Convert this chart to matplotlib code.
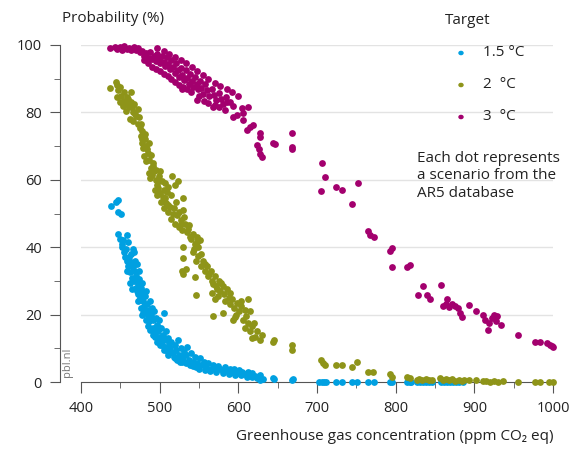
import matplotlib.pyplot as plt
from matplotlib.ticker import MultipleLocator

# 1.5 C target: (concentration ppm CO2 eq, probability %)
blue_x = [438, 445, 447, 447, 451, 447, 450, 452, 459, 460,
          452, 455, 457, 461, 463, 466, 468, 458, 460, 464,
          466, 469, 471, 474, 462, 465, 468, 470, 472, 474,
          476, 478, 471, 473, 475, 477, 479, 481, 483, 477.5,
          480, 482, 484, 486, 488, 490, 485, 487, 489, 491,
          493, 495, 497, 499, 506, 492, 494, 496, 498, 500,
          502, 504, 506, 508, 510, 512, 503, 505, 507, 510,
          513, 515, 517, 519, 521, 523, 525, 527, 529, 531,
          520, 528, 533, 535, 537, 540, 542, 545, 548, 551,
          546, 553, 556, 559, 562, 565, 568, 571, 574, 577,
          580, 583, 586, 589, 592, 595, 598, 601, 605, 609,
          612, 615, 618, 621, 624, 627, 631, 628, 644, 645, 668, 669,
          454, 456, 459, 462, 465, 467, 470, 473, 476, 479,
          482, 485, 488, 491, 494, 497, 500, 503, 508, 511,
          514, 518, 522, 526, 530, 534, 538, 543, 550, 557,
          564, 572, 580, 588, 596, 604, 611, 618,
          703, 706, 709, 712, 724, 732, 744, 751, 765, 772, 793, 795,
          815, 818, 820, 827, 831, 835, 839, 843, 846, 857, 861, 865,
          869, 873, 877, 881, 886]
blue_y = [52.3, 53.5, 54, 50.3, 50, 44, 42.5, 41, 43.5, 41.5,
          40, 38.5, 39.5, 37, 38, 39.5, 38.5, 36, 34.5, 35.5,
          34, 36, 35, 33, 32.5, 31, 30, 31.5, 29, 30.5,
          28, 29.5, 27, 26, 25, 26.5, 24, 25.5, 27, 20,
          22.5, 21, 23, 21.5, 24, 22, 19.5, 18, 20, 18.5,
          21, 19, 17, 18.5, 20.4, 16, 14.5, 16.5, 15, 13.5,
          16, 14, 12.5, 15, 13, 11.5, 11, 9.5, 10.5, 9,
          10, 12, 8.5, 11, 9.5, 12.5, 8, 10, 7.5, 9,
          7, 6, 8, 10.5, 6.5, 8.5, 6, 7.5, 5.5, 7,
          4.5, 5, 6, 4.5, 5.5, 4, 5, 3.8, 4.8, 4,
          3.5, 4.5, 3.5, 4, 3, 3.8, 2.8, 3.5, 3, 2.5,
          3, 2, 2.6, 1.8, 1.2, 2, 1, 0.6, 1.2, 0.8, 0.6, 1,
          42, 37, 33, 29.5, 27.5, 33, 28, 24, 22, 20.5,
          18.5, 16.5, 15.5, 14, 13.5, 12, 11, 12.5, 10, 8,
          9, 7.5, 6.5, 6, 6.5, 5.5, 5, 4.8, 4, 3.5,
          3.2, 3, 2.6, 2.4, 2.2, 2, 1.6, 1.4,
          0, 0, 0, 0, 0, 0, 0, 0, 0, 0, 0, 0,
          0, 0, 0, 0, 0, 0, 0, 0, 0, 0, 0, 0,
          0, 0, 0, 0, 0]

# 2 C target
green_x = [437, 444, 446, 447, 450, 446, 449, 451, 453, 455,
           457, 459, 461, 463, 464, 466, 468, 470, 472, 474,
           462, 466, 473,
           475, 476, 478, 477, 479, 481, 483, 480, 482, 485,
           487, 489, 491, 486, 488, 490, 493, 495, 497, 499,
           494, 496, 498, 501, 503, 505, 507, 509, 511, 516,
           519, 523, 502, 505, 508, 511, 513, 515, 517, 520,
           522, 525, 527, 529, 530, 530, 532, 535, 537, 540,
           542, 545, 547, 549, 551, 530, 530, 528, 530, 534,
           545, 546, 543, 546, 549, 552, 555, 557, 560, 562,
           565, 567, 570, 572, 575, 577, 580, 582, 585, 588,
           566, 570, 574, 589, 592, 595, 598, 601, 604, 608,
           612, 615, 568, 580, 593, 596, 606, 609, 612, 615,
           618, 621, 624, 627, 630, 617, 644, 645, 668, 668,
           455, 458, 460, 465, 469, 476, 478, 481, 484, 486,
           489, 492, 495, 498, 500, 504, 507, 510, 514, 518,
           521, 524, 527, 531, 536, 539, 544, 548, 553, 558,
           563, 568, 573, 578, 583, 590, 597, 603, 610, 620,
           705, 707, 710, 724, 732, 744, 751, 765, 771, 793,
           795, 815, 818, 827, 830, 834, 838, 842, 846, 856,
           860, 864, 868, 872, 876, 880, 884, 887, 893, 902,
           911, 915, 920, 925, 930, 936, 956, 977, 984, 995, 1000]
green_y = [87.1, 89, 88, 86.5, 87.5, 84.5, 83, 85, 82, 83.5,
           80.5, 84.5, 81.5, 86, 83, 80, 82.5, 79, 81, 78.5,
           78, 77.5, 76.5,
           75.4, 73, 74.5, 71, 69.5, 72, 70, 67, 65.5, 68,
           66, 63.5, 65, 62, 60.5, 61.5, 62.5, 60, 58.5, 61,
           57, 55.5, 57.5, 56, 59.5, 57, 54.5, 56.5, 58, 61,
           58.5, 59.5, 53.5, 51.5, 53, 50.5, 52, 48.5, 50, 47,
           49.5, 46, 48, 45, 54.6, 51, 47, 44.5, 46.5, 42.5,
           44, 41, 43, 40, 42, 40, 36.8, 33, 32, 33.5,
           31.2, 25.8, 38.5, 36, 37.5, 34.5, 36, 33, 34.5, 31.5,
           33, 30, 31.5, 28.5, 30, 27, 28.5, 26, 27.5, 25,
           26.5, 24.5, 25.5, 23, 24.5, 22, 23.5, 21, 22.5, 21.5,
           24.5, 21, 19.6, 20.5, 18.4, 19.3, 18.5, 16, 17.5, 15,
           16.5, 13.5, 15, 12.5, 14, 13, 12, 12.5, 9.5, 11,
           86, 82.5, 84, 81.5, 79.5, 76.5, 72, 73.5, 69, 71,
           67.5, 64, 63, 59.5, 62.5, 55, 59, 52.5, 55.5, 51.5,
           53.5, 50.5, 47, 49, 45.5, 43, 39.5, 41.5, 38, 35,
           32, 29, 27.5, 29.5, 24, 26.5, 20, 24, 19.5, 17.5,
           6.5, 5.5, 5, 5, 5, 4.5, 6, 3, 3, 2.4,
           1.6, 1.6, 1.3, 0.6, 1, 0.5, 0.8, 0.5, 0.7, 1.2,
           0.6, 1, 0.5, 0.8, 0.4, 0.7, 0.3, 0.6, 0.5, 0.5,
           0.2, 0.3, 0, 0.4, 0, 0.2, 0, 0, 0, 0, 0]

# 3 C target
magenta_x = [437, 443, 446, 449, 452, 455, 458, 461, 464, 467,
             470, 473, 475, 478, 480, 483, 486, 488, 490, 493,
             495, 497, 499, 501, 503, 505, 507, 509, 511, 513,
             515, 517, 519, 521, 523, 525, 527, 529, 531, 533,
             535, 537, 539, 541, 543, 545, 547, 549, 551, 553,
             555, 557, 560, 563, 566, 569, 572, 575, 578, 581,
             584, 586, 530, 528, 547, 568, 592, 600, 589, 593,
             605, 612, 593, 598, 606, 606, 611, 615, 619, 627, 627,
             480, 485, 490, 495, 500, 505, 510, 515, 520, 525,
             535, 540, 550, 556, 562, 570, 576, 583, 497, 505,
             512, 520, 527, 534, 541, 548, 555, 562, 570, 577, 585,
             624, 626, 628, 630, 644, 647, 668, 668, 668,
             706, 710, 705, 724, 732, 752, 744,
             765, 767, 773, 793, 795, 795, 815, 818,
             829, 835, 840, 844, 858, 865, 860, 864, 868, 872, 876, 879, 882, 884,
             893, 902, 911, 914, 917, 919, 922, 925, 927, 929, 933.5,
             956, 977, 984, 993, 996, 999, 1000]
magenta_y = [99, 99.5, 98.8, 99.3, 98.5, 99.6, 98.7, 99.2, 98.4, 99.5,
             98.6, 99, 97.8, 98.3, 96.8, 97.5, 96, 97.8, 95.8, 96.7,
             95.2, 97.3, 95.8, 94.6, 96.8, 95, 93.8, 96.3, 94.3, 92.9,
             95.6, 93.5, 91.8, 94.6, 92.5, 90.5, 93.2, 91.2, 89.7, 92.6,
             90.3, 88.5, 91.5, 89.2, 87.6, 90.4, 88.4, 86.8, 89.3, 87.2,
             85.6, 88.3, 86.5, 84.8, 87, 85.3, 83.7, 85.8, 84, 82.5,
             84.6, 83, 87.5, 86.8, 83.7, 81.6, 86, 85, 83, 82,
             81.3, 81.6, 78.6, 79.2, 77.7, 79.8, 74.8, 75.8, 76.3, 72.7, 74,
             95.5, 94.8, 93.5, 93, 92.2, 91.5, 90.8, 90, 89, 88.2,
             87, 86, 85, 83.5, 82.8, 82.2, 81.5, 80.8, 99, 98.2,
             97.4, 96.5, 95.5, 94.8, 93.5, 92.2, 91, 90, 88.8, 87.8, 86.8,
             70.3, 69, 67.8, 66.8, 71, 70.5, 74, 69.2, 69.8,
             65, 60.8, 56.6, 57.9, 57, 59, 52.9,
             44.8, 43.5, 43, 39, 39.8, 34, 34, 34.6,
             25.9, 28.4, 25.8, 24.6, 28.9, 24.7, 22.5, 23.2, 22.2, 23, 22.6, 22, 20.5, 19.3,
             22.8, 21.2, 20, 18.5, 15.4, 17.5, 19, 20, 18, 19.5, 16.9,
             13.8, 12, 12, 11.7, 11, 10.8, 10.5]

series = [("1.5 °C", blue_x, blue_y, "#00a0e1"),
          ("2  °C", green_x, green_y, "#8e9419"),
          ("3  °C", magenta_x, magenta_y, "#a3006e")]

plt.rcParams['font.family'] = ['Open Sans', 'DejaVu Sans']
txt = "#222222"
axc = "#555555"

fig = plt.figure(figsize=(5.71, 4.49), dpi=100)
ax = fig.add_axes([81 / 571, 1 - 382 / 449, 472 / 571, 337 / 449])

for name, xs, ys, col in series:
    ax.scatter(xs, ys, s=24, color=col, linewidths=0, clip_on=False, zorder=3)

ax.set_xlim(400, 1000)
ax.set_ylim(0, 100)

for y in [20, 40, 60, 80, 100]:
    ax.axhline(y, color="#e3e3e3", lw=1, zorder=1)

for s in ["top", "right"]:
    ax.spines[s].set_visible(False)
ax.spines["left"].set_position(("outward", 15))
ax.spines["left"].set_color(axc)
ax.spines["bottom"].set_color(axc)

ax.xaxis.set_major_locator(MultipleLocator(100))
ax.xaxis.set_minor_locator(MultipleLocator(50))
ax.yaxis.set_major_locator(MultipleLocator(20))
ax.yaxis.set_minor_locator(MultipleLocator(10))
ax.tick_params(axis="x", which="major", length=8, color=axc, labelsize=10.5, labelcolor=txt, pad=6)
ax.tick_params(axis="x", which="minor", length=4, color=axc)
ax.tick_params(axis="y", which="major", length=7, color=axc, labelsize=10.5, labelcolor=txt, pad=6)
ax.tick_params(axis="y", which="minor", length=4, color=axc)

fig.text(62 / 571, 1 - 18 / 449, "Probability (%)", fontsize=11, color=txt, va="center")
fig.text(553 / 571, 1 - 437 / 449, "Greenhouse gas concentration (ppm CO₂ eq)",
         fontsize=11, color=txt, ha="right", va="center")
fig.text(68 / 571, 1 - 362 / 449, "pbl.nl", fontsize=8, color="#777777",
         rotation=90, ha="center", va="center")

fig.text(445 / 571, 1 - 20 / 449, "Target", fontsize=11, color=txt, va="center")
for i, (name, xs, ys, col) in enumerate(series):
    yy = 1 - (53 + 32 * i) / 449
    fig.patches.append(plt.Circle((461 / 571, yy), 0.0035, color=col,
                                  transform=fig.transFigure, figure=fig))
    fig.text(483 / 571, yy, name, fontsize=11, color=txt, va="center")

fig.text(417 / 571, 1 - 176 / 449, "Each dot represents\na scenario from the\nAR5 database",
         fontsize=11, color=txt, va="center", linespacing=1.2)

fig.savefig("out.png", dpi=100)
